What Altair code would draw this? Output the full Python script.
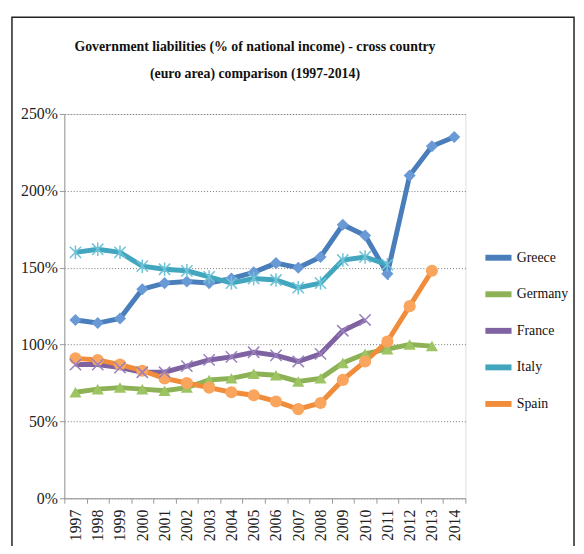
import altair as alt
import pandas as pd

years = [str(y) for y in range(1997, 2015)]
countries = ["Greece", "Germany", "France", "Italy", "Spain"]
greece = [116, 114, 117, 136, 140, 141, 140, 143, 147, 153, 150, 157, 178, 171, 146, 210, 229, 235]
germany = [69, 71, 72, 71, 70, 72, 77, 78, 81, 80, 76, 78, 88, 94, 97, 100, 99, None]
france = [87, 87, 85, 82, 82, 86, 90, 92, 95, 93, 89, 94, 109, 116, None, None, None, None]
italy = [160, 162, 160, 151, 149, 148, 144, 140, 143, 142, 137, 140, 155, 157, 152, None, None, None]
spain = [91, 90, 87, 83, 78, 75, 72, 69, 67, 63, 58, 62, 77, 89, 102, 125, 148, None]
line_colors = ["#4A7EBB", "#8DB255", "#7E62A1", "#43A6BF", "#F08C3A"]
point_colors = ["#6A9AD6", "#9DC462", "#9A80BE", "#6EC3D6", "#F9A55E"]

series = dict(zip(countries, [greece, germany, france, italy, spain]))
rows = []
for c in countries:
    for y, v in zip(years, series[c]):
        if v is not None:
            rows.append({"Year": y, "Country": c, "Value": v / 100})
df = pd.DataFrame(rows)

FONT = "Liberation Serif"
x = alt.X("Year:O", sort=years, title=None,
          axis=alt.Axis(labelAngle=-90, labelFontSize=16, labelFont=FONT, labelColor="#222",
                        tickBand="extent", domainColor="#999", tickColor="#999", labelPadding=6))
y = alt.Y("Value:Q", title=None, scale=alt.Scale(domain=[0, 2.5], nice=False),
          axis=alt.Axis(format="%", values=[0, 0.5, 1, 1.5, 2, 2.5], labelFontSize=16, labelFont=FONT,
                        labelColor="#222", grid=True, gridDash=[1, 2], gridColor="#777",
                        domainColor="#999", tickColor="#999", tickSize=5))
color = alt.Color("Country:N", sort=countries,
                  scale=alt.Scale(domain=countries, range=line_colors),
                  legend=alt.Legend(title=None, orient="none", legendX=423, legendY=129,
                                    symbolType="stroke", symbolSize=700, symbolStrokeWidth=6,
                                    labelFont=FONT, labelFontSize=14, labelColor="#111",
                                    rowPadding=8, labelOffset=2))

base = alt.Chart(df)
lines = base.mark_line(strokeWidth=5).encode(x=x, y=y, color=color)

pcolor = alt.Color("Country:N", scale=alt.Scale(domain=countries, range=point_colors), legend=None)
filled = base.transform_filter(
    alt.FieldOneOfPredicate(field="Country", oneOf=["Greece", "Germany", "Spain"])
).mark_point(filled=True, opacity=1, size=150).encode(
    x=x, y=y,
    color=pcolor,
    shape=alt.Shape("Country:N", scale=alt.Scale(domain=["Greece", "Germany", "Spain"],
                                                 range=["diamond", "triangle-up", "circle"]), legend=None),
)
open_pts = base.transform_filter(
    alt.FieldOneOfPredicate(field="Country", oneOf=["France", "Italy"])
).mark_point(filled=False, opacity=1, size=130, strokeWidth=1.5).encode(
    x=x, y=y,
    color=pcolor,
    shape=alt.Shape("Country:N", scale=alt.Scale(domain=["France", "Italy"],
                                                 range=["M-1,-1L1,1M-1,1L1,-1",
                                                        "M-1,-1L1,1M-1,1L1,-1M0,-1.2L0,1.2"]), legend=None),
)

frame = alt.Chart(pd.DataFrame({"k": [0]})).mark_rect(filled=False, stroke="#222", strokeWidth=1.5).encode(
    x=alt.value(-53), x2=alt.value(516), y=alt.value(-98), y2=alt.value(480)
)

chart = alt.layer(frame, lines, filled, open_pts).resolve_scale(color="independent", shape="independent").properties(
    width=406, height=389,
    autosize=alt.AutoSizeParams(type="none"),
    title=alt.TitleParams(["Government liabilities (% of national income) - cross country",
                           "(euro area) comparison (1997-2014)"],
                          font=FONT, fontSize=14, fontWeight="bold", color="#111",
                          anchor="middle", frame="group", dx=-10, offset=-65, lineHeight=27),
    padding={"left": 57, "top": 104, "right": 112, "bottom": 45},
).configure_view(stroke=None).configure(background="white")

chart.save("out.html", embed_options={"renderer": "svg", "actions": False})
